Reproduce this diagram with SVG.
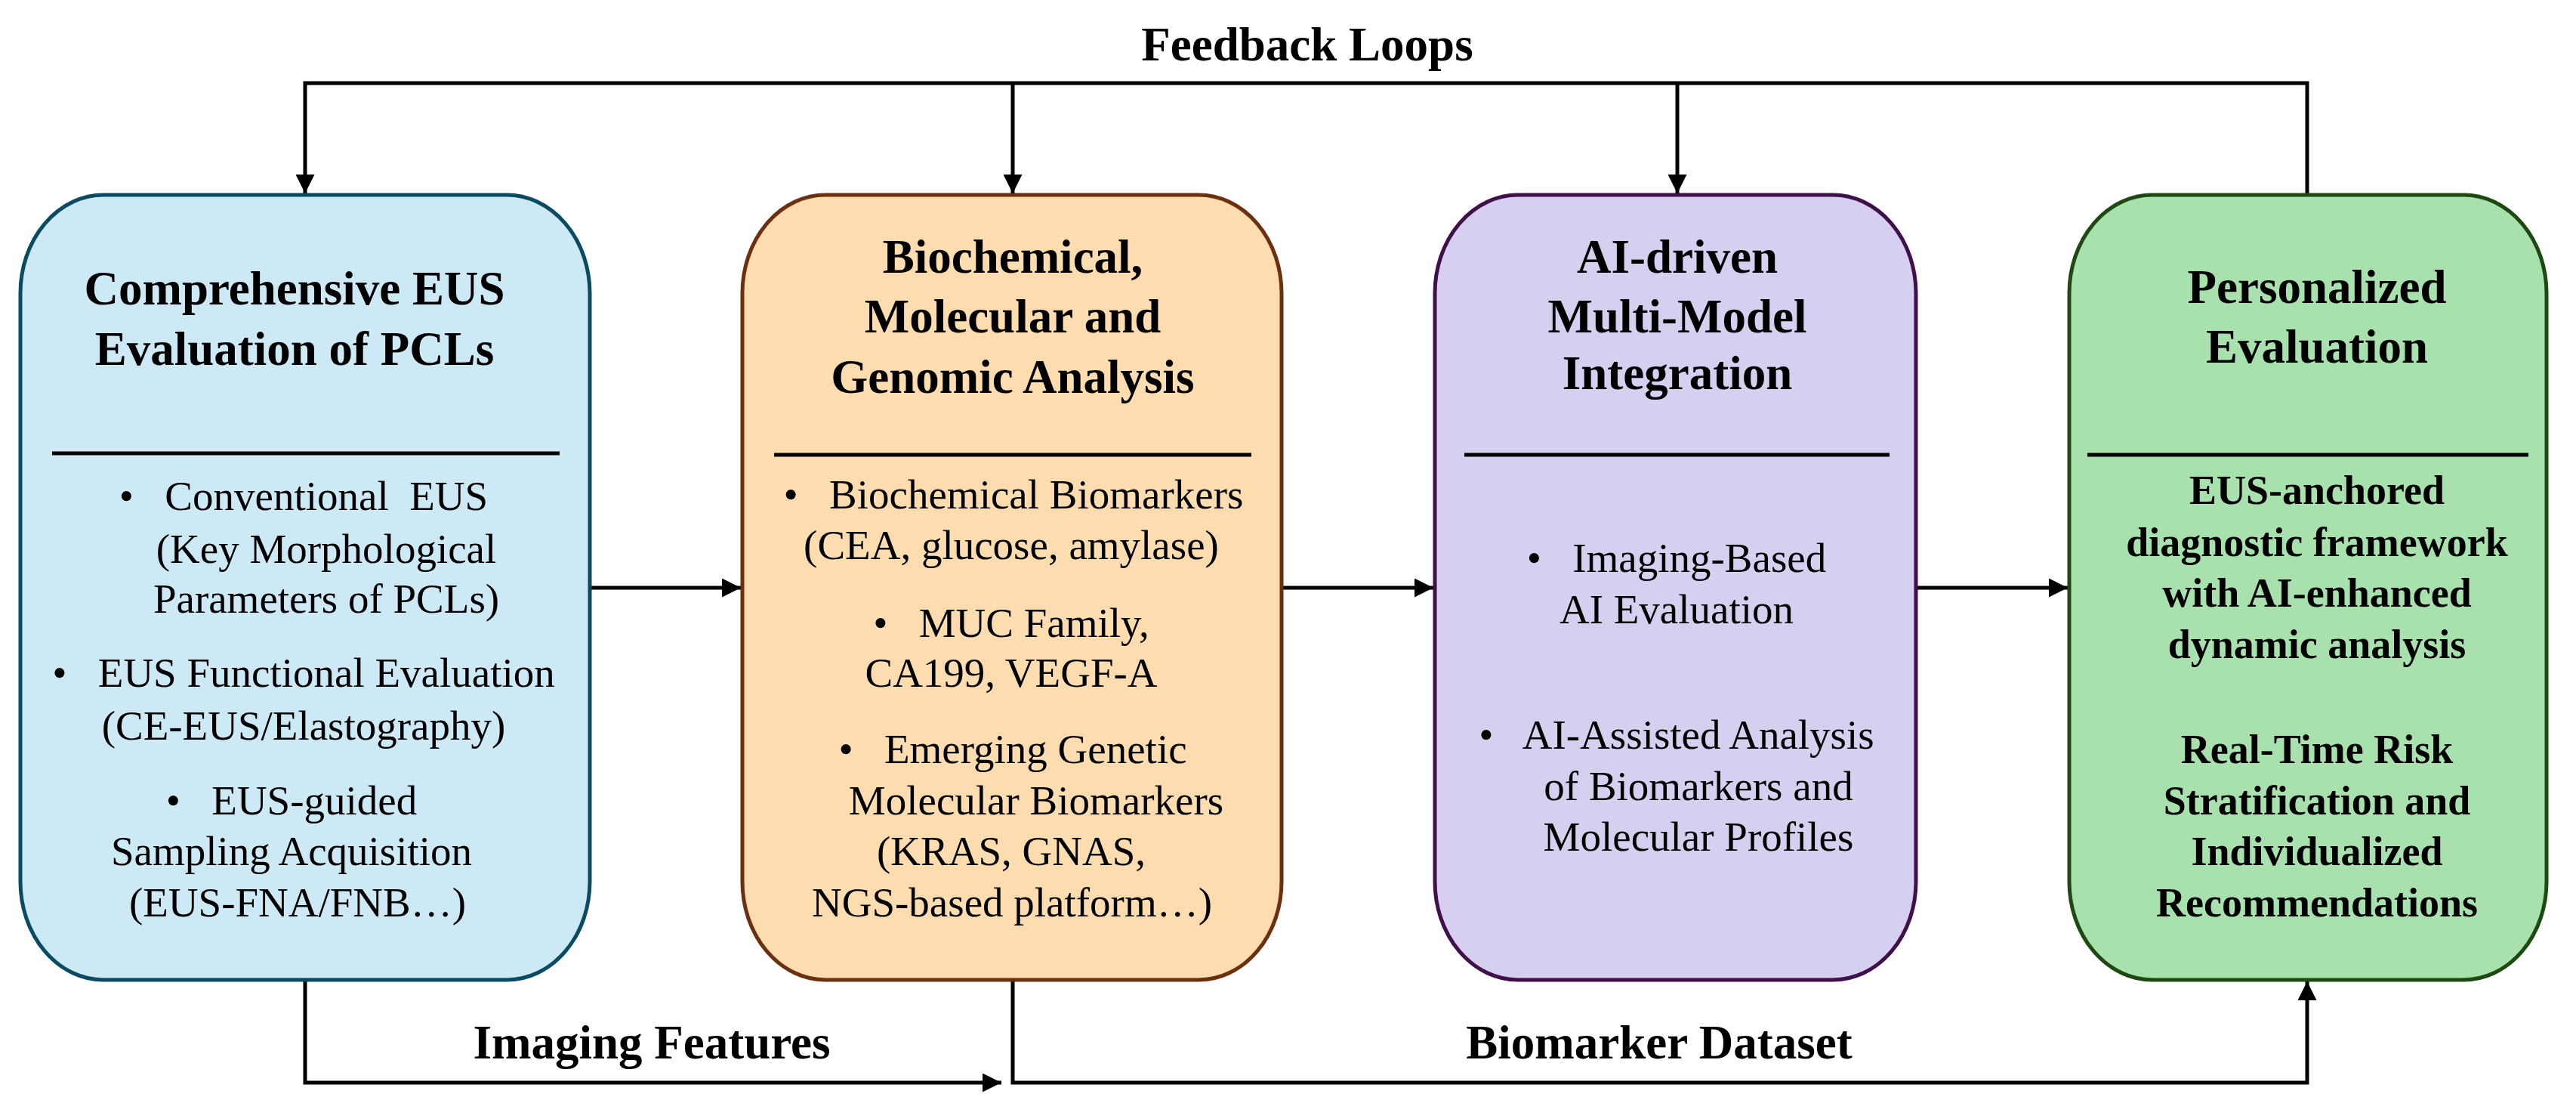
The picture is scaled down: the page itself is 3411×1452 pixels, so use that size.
<svg xmlns="http://www.w3.org/2000/svg" width="3411" height="1452" viewBox="0 0 3411 1452">
<style>
.t{font-family:"Liberation Serif","Times New Roman",serif;font-weight:bold;font-size:63px;text-anchor:middle;fill:#000}
.b{font-family:"Liberation Serif","Times New Roman",serif;font-size:55px;text-anchor:middle;fill:#000}
.bb{font-family:"Liberation Serif","Times New Roman",serif;font-weight:bold;font-size:54px;text-anchor:middle;fill:#000}
.c{fill:none;stroke:#000;stroke-width:5}
.d{stroke:#000;stroke-width:5}
</style>
<defs>
<marker id="a" viewBox="0 0 10 10" refX="10" refY="5" markerWidth="5" markerHeight="5" markerUnits="strokeWidth" orient="auto"><path d="M0,0L10,5L0,10z" fill="#000"/></marker>
</defs>
<rect width="3411" height="1452" fill="#fff"/>
<g id="connectors">
<path class="c" d="M3055,258V110H404V256" marker-end="url(#a)"/>
<path class="c" d="M1341,110V256" marker-end="url(#a)"/>
<path class="c" d="M2221,110V256" marker-end="url(#a)"/>
<path class="c" d="M781,778H981" marker-end="url(#a)"/>
<path class="c" d="M1697,778H1898" marker-end="url(#a)"/>
<path class="c" d="M2537,778H2738" marker-end="url(#a)"/>
<path class="c" d="M404,1297V1433H1326" marker-end="url(#a)"/>
<path class="c" d="M1341,1297V1433H3055V1299" marker-end="url(#a)"/>
<text class="t" x="1731" y="80">Feedback Loops</text>
<text class="t" x="863" y="1401">Imaging Features</text>
<text class="t" x="2197" y="1401">Biomarker Dataset</text>
</g>
<g id="n1">
<rect x="27" y="258" width="754" height="1039" rx="110" ry="130" fill="#cde9f5" stroke="#0b4a63" stroke-width="5"/>
<text class="t" x="390" y="403">Comprehensive EUS</text>
<text class="t" x="390" y="483">Evaluation of PCLs</text>
<line class="d" x1="69" y1="600" x2="741" y2="600"/>
<text class="b" x="402" y="675" xml:space="preserve">•   Conventional  EUS</text>
<text class="b" x="432" y="745">(Key Morphological</text>
<text class="b" x="432" y="811">Parameters of PCLs)</text>
<text class="b" x="402" y="909" xml:space="preserve">•   EUS Functional Evaluation</text>
<text class="b" x="402" y="979">(CE-EUS/Elastography)</text>
<text class="b" x="386" y="1078" xml:space="preserve">•   EUS-guided</text>
<text class="b" x="386" y="1145">Sampling Acquisition</text>
<text class="b" x="394" y="1213">(EUS-FNA/FNB…)</text>
</g>
<g id="n2">
<rect x="983" y="258" width="714" height="1039" rx="110" ry="130" fill="#fddcb0" stroke="#6b3010" stroke-width="5"/>
<text class="t" x="1341" y="361">Biochemical,</text>
<text class="t" x="1341" y="440">Molecular and</text>
<text class="t" x="1341" y="520">Genomic Analysis</text>
<line class="d" x1="1025" y1="602" x2="1657" y2="602"/>
<text class="b" x="1342" y="673" xml:space="preserve">•   Biochemical Biomarkers</text>
<text class="b" x="1339" y="740">(CEA, glucose, amylase)</text>
<text class="b" x="1339" y="843" xml:space="preserve">•   MUC Family,</text>
<text class="b" x="1339" y="909">CA199, VEGF-A</text>
<text class="b" x="1341" y="1010" xml:space="preserve">•   Emerging Genetic</text>
<text class="b" x="1372" y="1078">Molecular Biomarkers</text>
<text class="b" x="1339" y="1145">(KRAS, GNAS,</text>
<text class="b" x="1340" y="1213">NGS-based platform…)</text>
</g>
<g id="n3">
<rect x="1900" y="258" width="637" height="1039" rx="110" ry="130" fill="#d7cff0" stroke="#40104a" stroke-width="5"/>
<text class="t" x="2221" y="361">AI-driven</text>
<text class="t" x="2221" y="440">Multi-Model</text>
<text class="t" x="2221" y="515">Integration</text>
<line class="d" x1="1939" y1="602" x2="2502" y2="602"/>
<text class="b" x="2220" y="757" xml:space="preserve">•   Imaging-Based</text>
<text class="b" x="2220" y="825">AI Evaluation</text>
<text class="b" x="2220" y="991" xml:space="preserve">•   AI-Assisted Analysis</text>
<text class="b" x="2249" y="1059">of Biomarkers and</text>
<text class="b" x="2249" y="1126">Molecular Profiles</text>
</g>
<g id="n4">
<rect x="2740" y="258" width="632" height="1039" rx="110" ry="130" fill="#a8e0ae" stroke="#1e4a12" stroke-width="5"/>
<text class="t" x="3068" y="401">Personalized</text>
<text class="t" x="3068" y="480">Evaluation</text>
<line class="d" x1="2764" y1="602" x2="3348" y2="602"/>
<text class="bb" x="3068" y="667">EUS-anchored</text>
<text class="bb" x="3068" y="736">diagnostic framework</text>
<text class="bb" x="3068" y="803">with AI-enhanced</text>
<text class="bb" x="3068" y="871">dynamic analysis</text>
<text class="bb" x="3068" y="1010">Real-Time Risk</text>
<text class="bb" x="3068" y="1078">Stratification and</text>
<text class="bb" x="3068" y="1145">Individualized</text>
<text class="bb" x="3068" y="1213">Recommendations</text>
</g>
</svg>
